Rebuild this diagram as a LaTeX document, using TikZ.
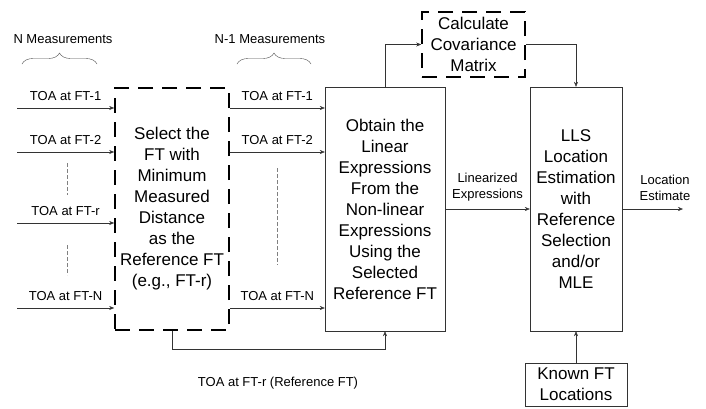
\documentclass[tikz,border=0pt]{standalone}
\usepackage{fontspec}
\setmainfont{Liberation Sans}
\usetikzlibrary{arrows.meta}
\usetikzlibrary{decorations.pathreplacing}
\usetikzlibrary{positioning}

\begin{document}
\begin{tikzpicture}[x=1pt,y=-1pt,
  blk/.style={draw=black!80,thin,align=center,inner sep=0pt,font=\fontsize{17}{21}\selectfont},
  dblk/.style={draw=black,line width=1.6pt,dash pattern=on 15pt off 9pt,align=center,inner sep=0pt,font=\fontsize{17}{21}\selectfont},
  lbl/.style={font=\fontsize{13}{15.5}\selectfont,align=center,inner sep=0pt},
  conn/.style={draw=black!80,thin,-{Stealth[length=5pt,width=4pt]}},
  gap/.style={draw=gray,thin,dash pattern=on 4pt off 2pt},
  brc/.style={draw=black!70,thin,decorate,decoration={brace,amplitude=11pt}}]
\useasboundingbox (0,0) rectangle (706,408);

% blocks
\node[dblk,minimum width=114pt,minimum height=242pt] (sel) at (172,209) {Select the\\FT with\\Minimum\\Measured\\Distance\\as the\\Reference FT\\(e.g., FT-r)};
\node[blk,minimum width=120pt,minimum height=244pt] (obt) at (385,209) {Obtain the\\Linear\\Expressions\\From the\\Non-linear\\Expressions\\Using the\\Selected\\Reference FT};
\node[dblk,minimum width=103pt,minimum height=65pt] (calc) at (473.5,44.5) {Calculate\\Covariance\\Matrix};
\node[blk,minimum width=92pt,minimum height=244pt] (lls) at (576,209) {LLS\\Location\\Estimation\\with\\Reference\\Selection\\and/or\\MLE};
\node[blk,minimum width=102pt,minimum height=43pt] (known) at (576,384.5) {Known FT\\Locations};

% measurements
\draw[brc] (22,64) -- (97,64);
\node[lbl] (nmeas) at (63,39) {N Measurements};
\draw[brc] (237,64) -- (311,64);
\node[lbl] (n1meas) at (270,39) {N-1 Measurements};

\foreach \k/\y in {1/108,2/152,r/223,N/308}{
  \coordinate (in\k) at (17,\y);
  \draw[conn] (in\k) -- (in\k -| sel.west) node[lbl,midway,above=7pt] {TOA at FT-\k};
}
\foreach \k in {1,2,N}{
  \draw[conn] (sel.east |- in\k) -- (obt.west |- in\k) node[lbl,midway,above=7pt] {TOA at FT-\k};
}
\draw[gap] (67,163) -- (67,195);
\draw[gap] (67,245) -- (67,275);
\draw[gap] (277,168) -- (277,265);

% reference feedback
\draw[conn] (sel.south) -- ++(0,18) -| (obt.south);
\node[lbl] (reftoa) at (278,383) {TOA at FT-r (Reference FT)};

% covariance
\draw[conn] (obt.north) |- (calc.west);
\draw[conn] (calc.east) -| (lls.north);

% estimation
\draw[conn] (obt.east) -- (lls.west) node[lbl,midway,above=8pt] {Linearized\\Expressions};
\coordinate (out) at (683,209);
\draw[conn] (lls.east) -- (out);
\node[lbl] (locest) at (665,188) {Location\\Estimate};
\draw[conn] (known.north) -- (lls.south);

\end{tikzpicture}
\end{document}
